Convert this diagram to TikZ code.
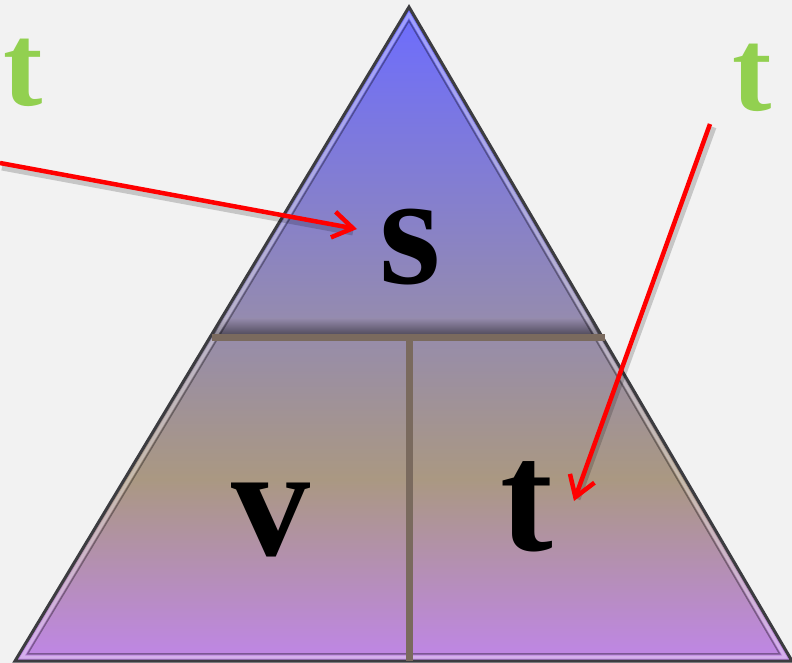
\documentclass[tikz,border=0pt]{standalone}
\usepackage{fontspec}
\setmainfont{Liberation Serif}
\usetikzlibrary{arrows.meta,calc}
\definecolor{bg}{RGB}{242,242,242}
\definecolor{ctop}{RGB}{108,108,255}
\definecolor{cgrey}{RGB}{150,140,172}
\definecolor{ctan}{RGB}{170,152,130}
\definecolor{cbot}{RGB}{190,135,225}
\definecolor{barc}{RGB}{122,106,94}
\definecolor{edge}{RGB}{60,60,64}
\definecolor{tgreen}{RGB}{146,208,80}
\definecolor{ared}{RGB}{255,0,0}
\pgfdeclareverticalshading{trishade}{100bp}{color(0bp)=(cbot); color(25.9bp)=(cbot); color(38.9bp)=(ctan); color(50.3bp)=(cgrey); color(75bp)=(ctop); color(100bp)=(ctop)}
\tikzset{
  bar/.style={barc, line width=7pt},
  redarrow/.style={ared, line width=4.5pt, -{Straight Barb[length=20pt,width=26pt,line width=4.5pt]}},
  arrowshadow/.style={black, opacity=0.18, line width=7pt},
  greent/.style={text=tgreen, font=\fontsize{118}{120}\selectfont\bfseries, inner sep=0pt, anchor=base},
  bigletter/.style={text=black, font=\fontsize{158}{160}\selectfont\bfseries, inner sep=0pt, anchor=base},
}
\begin{document}
\begin{tikzpicture}[x=1pt,y=-1pt]
\fill[bg] (0,0) rectangle (792,663);
\useasboundingbox (0,0) rectangle (792,663);
% triangle corners
\coordinate (P) at (409,7);
\coordinate (L) at (15,661);
\coordinate (R) at (792,661);
\coordinate (I) at (406.3,439.9);
% fill
\shade[shading=trishade] (P) -- (L) -- (R) -- cycle;
% shadow above horizontal bar
\begin{scope}
\clip (P) -- (L) -- (R) -- cycle;
\shade[top color=cgrey, bottom color=black!55!cgrey, opacity=0.8] (190,318) rectangle (630,334);
\end{scope}
% bevel
\draw[black, opacity=0.35, line width=1.5pt, line join=miter]
  ($(I)!0.968!(P)$) -- ($(I)!0.968!(L)$) -- ($(I)!0.968!(R)$) -- cycle;
\draw[white, opacity=0.35, line width=3pt, line join=miter]
  ($(I)!0.982!(P)$) -- ($(I)!0.982!(L)$) -- ($(I)!0.982!(R)$) -- cycle;
\draw[edge, line width=3pt, line join=miter] (P) -- (L) -- (R) -- cycle;
% dividers
\draw[bar] (212,337) -- (605,337);
\draw[bar] (409,334) -- (409,661);
% letters
\node[bigletter] (s) at (410,283) {s};
\node[bigletter] (v) at (271,555) {v};
\node[bigletter] (t) at (527,550) {t};
\node[greent] (g1) at (23,106) {t};
\node[greent] (g2) at (752,111) {t};
% arrows
\coordinate (a1s) at (0,163);
\coordinate (a1e) at (357,229);
\coordinate (a2s) at (710,124);
\coordinate (a2e) at (574,501);
\draw[arrowshadow] ($(a1s)+(2,4)$) -- ($(a1e)+(-4,3)$);
\draw[arrowshadow] ($(a2s)+(3,3)$) -- ($(a2e)+(3,-2)$);
\draw[redarrow] (a1s) -- (a1e);
\draw[redarrow] (a2s) -- (a2e);
\end{tikzpicture}
\end{document}
